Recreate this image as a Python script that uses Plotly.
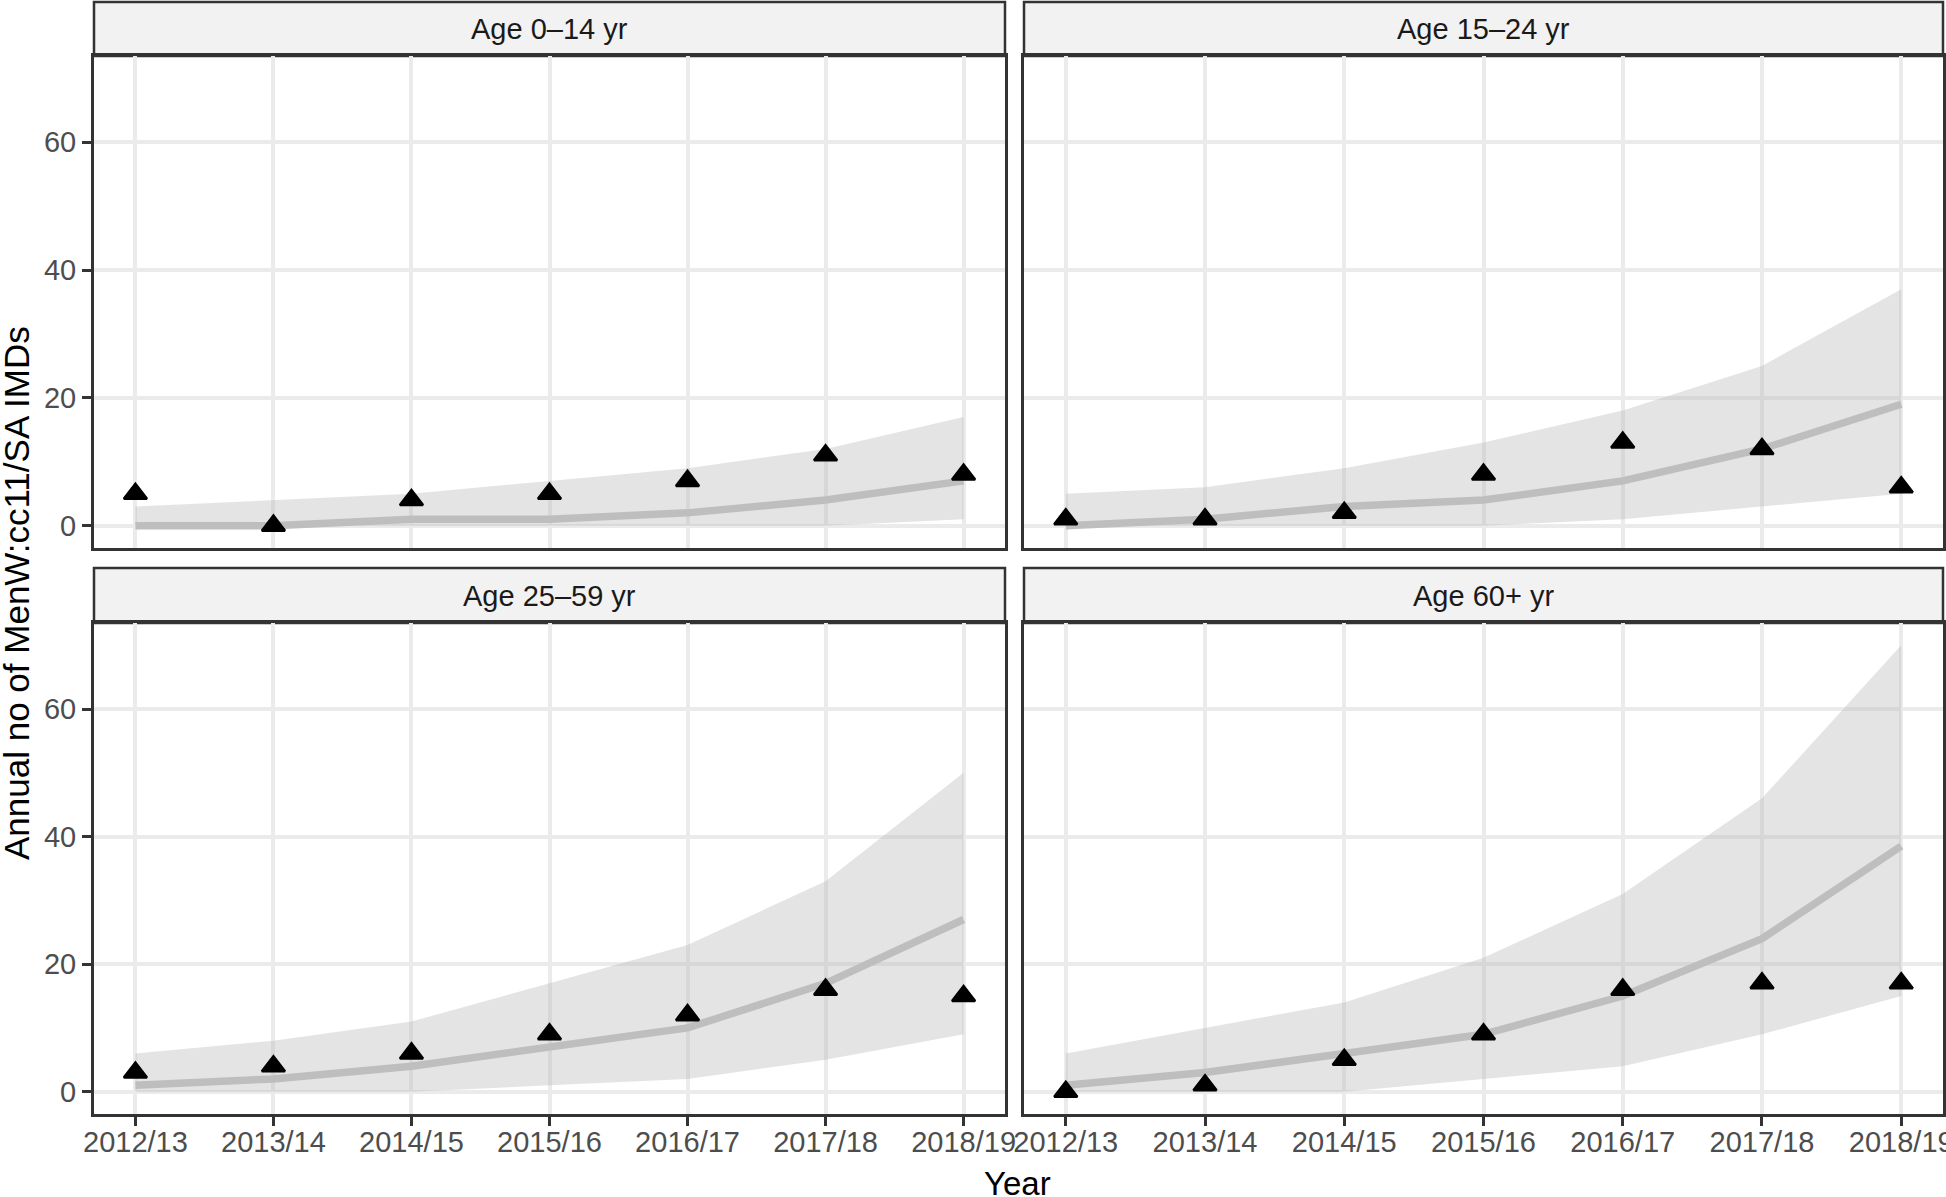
import plotly.graph_objects as go

# ---------------- data ----------------
years = ["2012/13", "2013/14", "2014/15", "2015/16", "2016/17", "2017/18", "2018/19"]
panels = ["Age 0–14 yr", "Age 15–24 yr", "Age 25–59 yr", "Age 60+ yr"]

obs_0_14 = [5, 0, 4, 5, 7, 11, 8]
med_0_14 = [0, 0, 1, 1, 2, 4, 7]
lo_0_14 = [0, 0, 0, 0, 0, 0, 1]
hi_0_14 = [3, 4, 5, 7, 9, 12, 17]

obs_15_24 = [1, 1, 2, 8, 13, 12, 6]
med_15_24 = [0, 1, 3, 4, 7, 12, 19]
lo_15_24 = [0, 0, 0, 0, 1, 3, 5]
hi_15_24 = [5, 6, 9, 13, 18, 25, 37]

obs_25_59 = [3, 4, 6, 9, 12, 16, 15]
med_25_59 = [1, 2, 4, 7, 10, 17, 27]
lo_25_59 = [0, 0, 0, 1, 2, 5, 9]
hi_25_59 = [6, 8, 11, 17, 23, 33, 50]

obs_60 = [0, 1, 5, 9, 16, 17, 17]
med_60 = [1, 3, 6, 9, 15, 24, 38.5]
lo_60 = [0, 0, 0, 2, 4, 9, 15]
hi_60 = [6, 10, 14, 21, 31, 46, 70]

y_ticks = [0, 20, 40, 60]
y_title = "Annual no of MenW:cc11/SA IMDs"
x_title = "Year"

series = [
    (obs_0_14, med_0_14, lo_0_14, hi_0_14),
    (obs_15_24, med_15_24, lo_15_24, hi_15_24),
    (obs_25_59, med_25_59, lo_25_59, hi_25_59),
    (obs_60, med_60, lo_60, hi_60),
]

# ---------------- layout geometry (pixels) ----------------
W, H = 1946, 1197
FONT = "Liberation Sans, Arial, Helvetica, sans-serif"
panel_x = [(94, 1005), (1024, 1943), (94, 1005), (1024, 1943)]
panel_y = [(56, 548), (56, 548), (623, 1114), (623, 1114)]
strip_y = [(2, 56), (2, 56), (568, 623), (568, 623)]


def dom_x(a, b):
    return [a / W, b / W]


def dom_y(top, bottom):
    return [1 - bottom / H, 1 - top / H]


fig = go.Figure()

for i, (obs, med, lo, hi) in enumerate(series):
    n = "" if i == 0 else str(i + 1)
    xa, ya = "x" + n, "y" + n
    fig.add_trace(go.Scatter(x=years, y=lo, xaxis=xa, yaxis=ya, mode="lines",
                             line=dict(width=0, color="rgba(0,0,0,0)"),
                             showlegend=False, hoverinfo="skip"))
    fig.add_trace(go.Scatter(x=years, y=hi, xaxis=xa, yaxis=ya, mode="lines",
                             line=dict(width=0, color="rgba(0,0,0,0)"),
                             fill="tonexty", fillcolor="rgba(185,185,185,0.38)",
                             showlegend=False, hoverinfo="skip"))
    fig.add_trace(go.Scatter(x=years, y=med, xaxis=xa, yaxis=ya, mode="lines",
                             line=dict(width=7.5, color="#BEBEBE"),
                             showlegend=False))
    fig.add_trace(go.Scatter(x=years, y=obs, xaxis=xa, yaxis=ya, mode="markers",
                             marker=dict(symbol="triangle-up", size=20, color="black",
                                         line=dict(width=2.5, color="black")),
                             showlegend=False))

    left = i in (0, 2)
    bottom = i in (2, 3)
    xaxis = dict(
        domain=dom_x(*panel_x[i]), anchor=ya, type="category",
        categoryorder="array", categoryarray=years,
        range=[-0.3, 6.3], showgrid=True, gridcolor="#EBEBEB", gridwidth=3.5,
        showline=True, mirror=True, linecolor="#333333", linewidth=3,
        zeroline=False, fixedrange=True,
        ticks="outside" if bottom else "", ticklen=9, tickwidth=3, tickcolor="#333333",
        showticklabels=bottom, ticklabelstandoff=-9,
        tickfont=dict(family=FONT, size=29, color="#4D4D4D"),
    )
    yaxis = dict(
        domain=dom_y(*panel_y[i]), anchor=xa, range=[-3.5, 73.5],
        tickvals=y_ticks, ticktext=[str(v) for v in y_ticks],
        showgrid=True, gridcolor="#EBEBEB", gridwidth=3.5,
        showline=True, mirror=True, linecolor="#333333", linewidth=3,
        zeroline=False, fixedrange=True,
        ticks="outside" if left else "", ticklen=9, tickwidth=3, tickcolor="#333333",
        showticklabels=left,
        tickfont=dict(family=FONT, size=29, color="#4D4D4D"),
    )
    fig.layout["xaxis" + n] = xaxis
    fig.layout["yaxis" + n] = yaxis

    # strip
    x0, x1 = panel_x[i]
    s0, s1 = strip_y[i]
    fig.add_shape(type="rect", xref="paper", yref="paper",
                  x0=x0 / W, x1=x1 / W, y0=1 - s1 / H, y1=1 - s0 / H,
                  fillcolor="#F2F2F2", line=dict(color="#333333", width=2.5),
                  layer="below")
    fig.add_annotation(text=panels[i], xref="paper", yref="paper",
                       x=(x0 + x1) / 2 / W, y=1 - (s0 + s1) / 2 / H,
                       xanchor="center", yanchor="middle", showarrow=False,
                       font=dict(family=FONT, size=29, color="#1A1A1A"))

fig.add_annotation(text=x_title, xref="paper", yref="paper",
                   x=1018 / W, y=1 - 1183 / H, xanchor="center", yanchor="middle",
                   showarrow=False, font=dict(family=FONT, size=33, color="black"))
fig.add_annotation(text=y_title, xref="paper", yref="paper",
                   x=16 / W, y=1 - 593 / H, xanchor="center", yanchor="middle",
                   textangle=-90, showarrow=False,
                   font=dict(family=FONT, size=35, color="black"))

fig.update_layout(
    width=W, height=H,
    margin=dict(l=0, r=0, t=0, b=0, autoexpand=False),
    paper_bgcolor="white", plot_bgcolor="white",
    showlegend=False,
)

fig.write_html(
    "out.html",
    config={"displayModeBar": False},
    post_script="document.body.style.margin='0';document.body.style.padding='0';",
)
